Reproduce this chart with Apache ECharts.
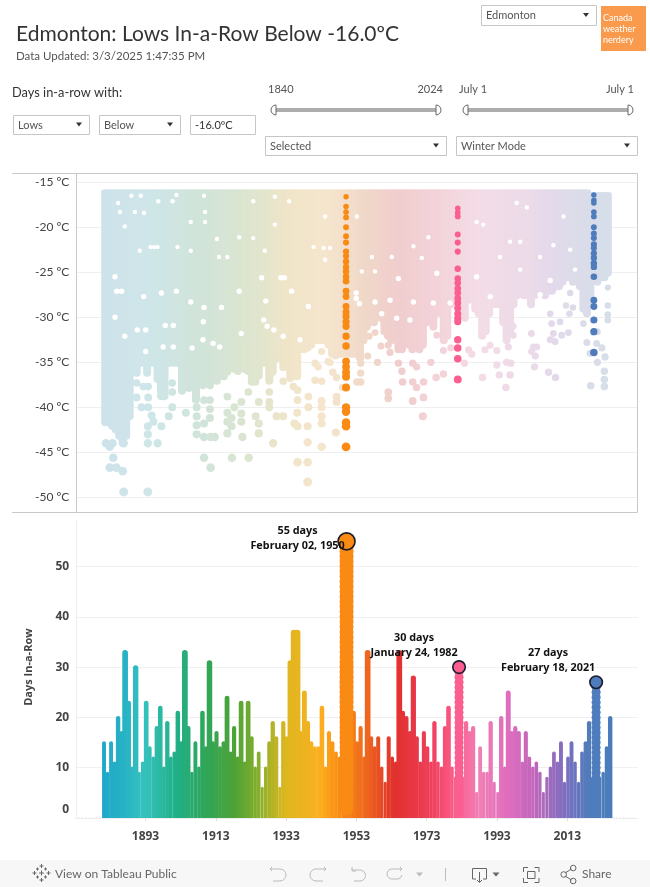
<!DOCTYPE html>
<html><head><meta charset="utf-8">
<style>html,body{margin:0;padding:0;background:#fff}#c{width:650px;height:887px}</style>
<script src="https://cdn.jsdelivr.net/npm/echarts@6/dist/echarts.min.js"></script>
</head><body><div id="c"></div>
<script>
// ---------- DATA ----------
const firstWinter = 1881;
const titleText = 'Edmonton: Lows In-a-Row Below -16.0ºC';
const updatedText = 'Data Updated: 3/3/2025 1:47:35 PM';
const xTicks = [1893,1913,1933,1953,1973,1993,2013];
// longest run of each winter, 1881..2025
const longestRun = [15,9,15,11,20,17,33,23,10,30,9,11,23,14,12,18,22,10,19,12,13,21,15,33,18,9,15,10,21,14,31,15,17,14,15,24,13,18,12,23,11,23,16,10,13,6,10,15,19,16,6,19,16,31,37,37,17,25,19,15,14,14,22,10,17,15,13,12,12,55,10,21,15,18,12,33,16,14,16,10,7,16,12,11,33,21,20,17,28,16,11,17,14,11,19,11,10,18,22,10,8,30,8,19,17,18,5,14,9,9,19,7,5,20,10,25,17,18,17,11,17,12,10,11,9,5,8,10,13,11,15,7,12,15,11,7,13,15,19,8,27,8,9,14,20];
// the deepest temperature each winter is filled down to without a break, 1881..2025
const solidFloor = [-42.1,-42.1,-42.5,-42.9,-43.6,-44.4,-43.6,-41.4,-36.2,-36.6,-35.5,-35.5,-36.6,-35.5,-35.5,-37.3,-39.2,-39.2,-35.5,-35.5,-35.5,-35.5,-38.6,-36,-38.3,-36,-39.6,-36.5,-38,-36.5,-38,-36.8,-37.5,-36,-37,-36.5,-35.9,-36.2,-36.4,-35.8,-36.2,-36.4,-37.6,-37.6,-36.9,-35.5,-35.5,-37.5,-36.5,-35,-34.7,-36,-34.5,-37.2,-36.8,-37,-34,-34,-33.8,-33.5,-33,-33,-33,-33,-33.5,-34.5,-34.7,-34.5,-34.5,-33.5,-34.5,-34.5,-34.5,-35,-33,-31.5,-30.7,-31,-30,-30.5,-32,-32.5,-33,-32.5,-34,-34,-32,-33.5,-34,-33.7,-34,-33.5,-31,-30,-31.5,-30,-29,-33,-32.5,-29,-28.5,-29,-30,-30.5,-28.5,-28,-29.5,-30,-32.5,-32,-30,-29,-29,-29,-31,-33,-32,-29,-28,-27.5,-28,-28,-29,-28,-27,-27.5,-28,-27.5,-27.5,-27,-27,-26.5,-26,-26,-26.5,-26,-27,-29.5,-30,-28.5,-26,-26.5,-26,-26,-25.5];
// separate days below the solid part: [winter, low]
const looseDays = [[1881.2,-44],[1883.1,-44],[1882.3,-44.4],[1886.3,-44],[1883.3,-45.6],[1882.3,-46.7],[1884.2,-46.7],[1886,-47.1],[1886.3,-49.4],[1893.2,-49.4],[1893.2,-44],[1896,-44],[1893.2,-42.1],[1893.2,-43],[1894.8,-41.6],[1897.1,-42.1],[1899.2,-41],[1891.4,-40],[1893.3,-40],[1894.3,-40.9],[1890,-37.3],[1890,-38.9],[1893.3,-38.9],[1891.9,-37.7],[1893.3,-37.7],[1897.6,-38.8],[1900.2,-37.3],[1900.2,-38.3],[1900.2,-40],[1904.1,-40.6],[1907.2,-40],[1907.2,-41],[1907.2,-42],[1907.2,-43],[1909.3,-41.8],[1909.3,-43.3],[1911.2,-43.3],[1912.4,-43.3],[1911,-39.2],[1911,-40.2],[1911,-41.2],[1909.3,-39.2],[1909.3,-45.6],[1911.2,-46.7],[1917.3,-45.6],[1922.1,-45.6],[1916,-38.8],[1916,-40.6],[1916,-41.6],[1916,-42.9],[1917.2,-41.2],[1917.2,-42.1],[1918,-40],[1920,-39.4],[1920,-40.7],[1920,-41.6],[1920.3,-43.3],[1922,-38.3],[1924.1,-41],[1925,-41.8],[1925,-42.9],[1925,-39.4],[1928,-38.3],[1928,-39.4],[1928,-40],[1930.1,-41],[1932,-41],[1929.1,-44],[1932,-37.1],[1934.9,-37.7],[1936.1,-38.1],[1936.1,-39.2],[1939.2,-38.8],[1939.2,-40],[1936,-40.6],[1935.2,-41.8],[1936.1,-42.1],[1939,-42.1],[1939,-43.9],[1936.1,-46.1],[1939,-46.1],[1939,-48.3],[1943,-44.4],[1943,-39.3],[1943,-40],[1943,-41],[1943,-41.8],[1943,-37.1],[1941.1,-35.1],[1942,-35.5],[1941.1,-37],[1943,-33.8],[1944.9,-34.9],[1945.4,-35],[1946.2,-36.1],[1947.3,-36.7],[1947.3,-38.8],[1947.3,-39.4],[1947.1,-42.8],[1949,-37.8],[1953.1,-37.2],[1954.2,-37.2],[1954.2,-35.1],[1954.2,-36.2],[1956.2,-34.3],[1959,-35],[1960,-33.2],[1962.1,-33.1],[1962.6,-33.9],[1958.3,-31.7],[1956.6,-32.1],[1962.1,-38.3],[1962.1,-39],[1965,-35.1],[1966,-36],[1966.2,-37.2],[1970.2,-35.5],[1969.1,-35.1],[1969.1,-37.2],[1970.2,-37.8],[1972.2,-37.2],[1969.1,-39.3],[1972.2,-38.9],[1972,-41],[1974.3,-35],[1975.8,-36.7],[1977.9,-36.3],[1977.9,-33.7],[1980,-33.4],[1976,-32],[1975,-31],[1983.9,-35.1],[1985.1,-33.6],[1986,-34.1],[1989.8,-33.6],[1989.1,-36.7],[1991.3,-33.1],[1993.2,-33.7],[1993.2,-35.3],[1993.9,-36.4],[1997,-36.4],[1995.8,-37.8],[1996,-35],[1997.2,-35.1],[1996.5,-33.3],[1997.9,-31],[1997.9,-32],[2003.1,-31.8],[2003.7,-33.3],[2004.6,-33.3],[2003.2,-33.8],[2004.2,-34.3],[2004,-35.5],[2008,-36.1],[2010,-36.7],[2008.5,-29.6],[2008.9,-30.7],[2009.4,-31.8],[2008.5,-32.5],[2009.9,-32.7],[2011.8,-32],[2013.7,-31.7],[2011.3,-30.5],[2014,-29.6],[2013,-28.7],[2015,-28.9],[2014.2,-27.3],[2018,-30.7],[2019,-32.8],[2019.9,-34],[2022,-31.6],[2021.8,-32.9],[2023.3,-33.4],[2024.2,-34.4],[2022,-35],[2024,-36],[2024,-36.9],[2024,-37.7],[2020.1,-37.6],[2025,-28.7],[2025,-29.7],[2025,-30.3],[2025,-26.7]];
// temperatures no day reached inside the solid part: [winter, low]
const missedLows = [[1884.7,-17.3],[1888.5,-16.5],[1891.2,-16.5],[1885.2,-18.3],[1886.6,-19.9],[1889.5,-18.3],[1892.1,-18.4],[1896.2,-17.1],[1900.3,-17.1],[1901.4,-16.4],[1905.5,-19.4],[1909.6,-18.3],[1909.6,-19.4],[1909.3,-16.5],[1923.4,-17.1],[1933.7,-17.1],[1929.6,-16.6],[1929.6,-19.7],[1919.4,-21.1],[1894,-22.2],[1895,-22.2],[1896,-22.2],[1890.9,-22.6],[1905.5,-22.6],[1901.7,-22.2],[1913.6,-23.3],[1916,-23.3],[1913,-21.3],[1923.4,-21.2],[1926.7,-22.6],[1940.7,-22.2],[1943.6,-22.3],[1925.8,-25.6],[1931.3,-25.6],[1932.3,-25.6],[1883.8,-25.5],[1884.3,-27.1],[1885.7,-27.1],[1892,-27.7],[1897.1,-27.3],[1901.4,-27.1],[1905.5,-28.3],[1909.3,-28.9],[1914.3,-28.9],[1919.4,-27.1],[1927,-28.2],[1934.4,-27.1],[1939.2,-28.8],[1883.8,-30],[1890.2,-31.4],[1892.6,-31.4],[1886.6,-32.1],[1909.1,-30.5],[1900.5,-30.9],[1898.2,-30.9],[1909,-32.5],[1911.9,-32.9],[1913.8,-33.3],[1920,-31.8],[1927.4,-31],[1926.4,-30.3],[1929.3,-31.4],[1932,-32.1],[1936.8,-32.5],[1900.5,-33.3],[1897.6,-33.3],[1892.6,-33.8],[1905.9,-33.4],[1944,-18.8],[1945.4,-22.3],[1944,-23.6],[1953.1,-18.8],[1952.9,-27.3],[1952.9,-27.9],[1957.4,-23.3],[1963.1,-23.3],[1958.3,-24.9],[1954.5,-24.9],[1969.3,-22.1],[1973.6,-21.1],[1971.7,-23.4],[1965,-25.7],[1958.3,-28.3],[1953.8,-28.5],[1976,-25.1],[1975,-28.4],[1969.3,-28.3],[1962.6,-28.1],[1964.5,-30.1],[1979.8,-28.4],[1960.2,-29.6],[1968.3,-30.3],[1987.4,-19.4],[1989.3,-19.7],[1997,-21.6],[1999.9,-21.6],[1994.1,-23.3],[1987.4,-25.5],[1991.3,-27.7],[1999.9,-24.7],[2005.6,-23.3],[2005.6,-27.5],[2008.5,-25.9],[2012.3,-18.8],[2014.2,-22.5],[2015.6,-24.7],[2009.4,-22],[2001.8,-17.8],[1998.9,-17.3]];
// days of the three selected winters
const selectedWinters = [1950,1982,2021];
const selectedRuns = [55,30,27];
const selectedLabels = ['55 days\nFebruary 02, 1950','30 days\nJanuary 24, 1982','27 days\nFebruary 18, 2021'];
const lows1950 = [-16.6,-17.7,-18.3,-18.9,-20,-21,-21.7,-22.7,-23.2,-23.8,-24.4,-24.9,-25.5,-26,-27.1,-27.7,-28.8,-29.4,-29.9,-30.5,-31,-32.1,-33.2,-34.9,-35.5,-36.1,-36.6,-37.8,-40,-40.5,-41.7,-42.1,-44.4];
const lows1982 = [-17.9,-18.4,-18.8,-20.8,-21.7,-22.7,-24.6,-25.7,-26.2,-26.8,-27.3,-27.9,-28.4,-29,-29.6,-30.1,-30.5,-32.5,-33.4,-34.6,-36.9];
const lows2021 = [-16.4,-17,-17.3,-18.3,-18.8,-20,-20.7,-21.2,-21.9,-22.3,-22.9,-23.4,-24,-24.4,-25.5,-28.1,-28.8,-30.3,-31.6,-33.9];

// ---------- STYLE ----------
const FONT = 'Lato';
const vivid = [[104,'#1fa8c9'],[125,'#27b3c4'],[145,'#36c2bd'],[175,'#20b08a'],[205,'#2fa65a'],[235,'#4da336'],[260,'#8aaf2c'],[285,'#dcb71f'],[320,'#fbb020'],[340,'#f98a12'],[365,'#ef6a1e'],[395,'#e0302c'],[430,'#ef3e59'],[457,'#fb5f8f'],[480,'#f07fb5'],[510,'#de6cbe'],[535,'#bf66bb'],[565,'#7d6fc0'],[590,'#4f7cbc'],[611,'#4b7dbb']];
const pastel = [[104,'#cde2ea'],[150,'#cfe6e9'],[200,'#d0e4da'],[250,'#dce5cf'],[290,'#f0e5c9'],[330,'#f5e5cd'],[370,'#f0d7c9'],[400,'#f0cdcd'],[440,'#f3d3da'],[480,'#f3dce6'],[530,'#ecdbe9'],[550,'#e4d9ea'],[590,'#d9dde9'],[610,'#d5dee9']];
function hex(c){return [1,3,5].map(i=>parseInt(c.substr(i,2),16));}
function ramp(stops,x){
  if(x<=stops[0][0])return stops[0][1];
  for(let i=1;i<stops.length;i++){ if(x<=stops[i][0]){
    const t=(x-stops[i-1][0])/(stops[i][0]-stops[i-1][0]),a=hex(stops[i-1][1]),b=hex(stops[i][1]);
    return 'rgb('+a.map((v,k)=>Math.round(v+(b[k]-v)*t)).join(',')+')';}}
  return stops[stops.length-1][1];
}
const OFFSET = 0.2; // runs end in mid winter, after New Year of the labelled year
const selectedColors = ['#f98a14','#fb5f8f','#4e7cbc'];

const winters = longestRun.map((_,i)=>firstWinter+i);
const runData = winters.map((y,i)=>[y+OFFSET,longestRun[i]]);
const floorData = winters.map((y,i)=>[y,solidFloor[i]]);
const zeroYears = [1874,1875,1876,1877,1878,1879,1880,2026,2027,2028,2029,2030,2031,2032];

const chart = echarts.init(document.getElementById('c'),null,{width:650,height:887});

const T = (x,y,text,o={})=>({type:'text',x,y,silent:true,z:5,style:Object.assign({text,fill:'#555',font:`${o.w||'normal'} ${o.s||11}px ${o.f||FONT}`,textAlign:o.a||'left',textVerticalAlign:'middle'},o.st||{})});
const R = (x,y,w,h,fill,stroke)=>({type:'rect',silent:true,z:3,shape:{x:x+.5,y:y+.5,width:w,height:h},style:{fill:fill||'#fff',stroke:stroke||'#c6c6c6',lineWidth:1}});
const L = (x1,y1,x2,y2,c,lw)=>({type:'line',silent:true,z:4,shape:{x1,y1,x2,y2},style:{stroke:c,lineWidth:lw||1}});
const TRI = (x,y,w,h,c)=>({type:'polygon',silent:true,z:5,shape:{points:[[x-w/2,y-h/2],[x+w/2,y-h/2],[x,y+h/2]]},style:{fill:c||'#333'}});
function box(x,y,w,h,t,o={}){return [R(x,y,w,h),T(x+5,y+h/2+.5,t,{s:11,st:{fill:o.c||'#555'}}),...(o.noTri?[]:[TRI(x+w-10,y+h/2,6,4)])];}
function flake(cx,cy){const out=[];[[0,-7],[0,7],[-7,0],[7,0],[0,0],[-4,-4],[4,-4],[-4,4],[4,4]].forEach(([dx,dy])=>{const r=(dx===0||dy===0)?(dx===0&&dy===0?2.5:2):1.5;
  out.push(L(cx+dx-r,cy+dy,cx+dx+r,cy+dy,'#666',1),L(cx+dx,cy+dy-r,cx+dx,cy+dy+r,'#666',1));});return out;}

// drawn pieces of the controls and the toolbar: [path, stroke, fill]
function handles(a,b,y){return [
  [`M${a+4},${y-5} L${a+4},${y+5} A5,5 0 0 1 ${a+4},${y-5} Z`,'#666','#fff'],
  [`M${b-4},${y-5} L${b-4},${y+5} A5,5 0 0 0 ${b-4},${y-5} Z`,'#666','#fff']];}
const iconPaths = [
  ...handles(272,440,110),...handles(464,632,110),
  ['M272,867 L270,869 L272,871 M270,869 L280,869 A6,6 0 0 1 280,881 L273,881','#bbb'],
  ['M324,867 L326,869 L324,871 M326,869 L316,869 A6,6 0 0 0 316,881 L323,881','#bbb'],
  ['M352,867 L352,871 L356,871 M352,870 L360,870 A5.5,5.5 0 0 1 360,881 L354,881','#bbb'],
  ['M400,867 L402,869 L400,871 M402,869 L392,869 A5,5 0 0 0 392,879 L398,879 A5,5 0 0 0 402,875','#bbb'],
  ['M476,879 L472.5,879 L472.5,868.5 L486.5,868.5 L486.5,879 L483,879 M479.5,872 L479.5,882 M477,880 L479.5,882.5 L482,880','#666'],
  ['M523.5,872 L523.5,867.5 L528,867.5 M534.5,867.5 L539,867.5 L539,872 M539,878 L539,882.5 L534.5,882.5 M528,882.5 L523.5,882.5 L523.5,878 M527.5,871.5 H535 V878.5 H527.5 Z','#666'],
  ['M565,873 L571.5,869 M565,876 L571.5,880 M566.5,874.5 A2.8,2.8 0 1 1 560.9,874.5 A2.8,2.8 0 1 1 566.5,874.5 M576,868 A2.8,2.8 0 1 1 570.4,868 A2.8,2.8 0 1 1 576,868 M576,881 A2.8,2.8 0 1 1 570.4,881 A2.8,2.8 0 1 1 576,881','#666']
];

const gfx = [
  T(16,34,titleText,{s:21,st:{fill:'#333'}}),
  T(16,56,updatedText,{s:11.5,st:{fill:'#555'}}),
  ...box(481,5,115,20,'Edmonton'),
  {type:'rect',silent:true,z:3,shape:{x:601,y:6,width:45,height:45},style:{fill:'#f99a4c'}},
  T(603,18,'Canada',{s:9,st:{fill:'#fff'}}),T(603,29,'weather',{s:9,st:{fill:'#fff'}}),T(603,40,'nerdery',{s:9,st:{fill:'#fff'}}),
  T(12,93,'Days in-a-row with:',{s:12.8,st:{fill:'#333'}}),
  ...box(13,115,76,19,'Lows'),...box(99,115,81,19,'Below'),...box(190,115,65,19,'-16.0ºC',{noTri:true,c:'#333'}),
  T(268,89,'1840',{s:11}),T(443,89,'2024',{s:11,a:'right'}),T(459,89,'July 1',{s:11}),T(634,89,'July 1',{s:11,a:'right'}),
  {type:'rect',silent:true,z:3,shape:{x:272,y:108,width:168,height:4},style:{fill:'#adadad'}},
  {type:'rect',silent:true,z:3,shape:{x:464,y:108,width:168,height:4},style:{fill:'#adadad'}},
  ...box(265,136,181,19,'Selected'),...box(456,136,181,19,'Winter Mode'),
  L(12,173.5,637.5,173.5,'#c8c8c8'),L(12,512.5,637.5,512.5,'#c8c8c8'),L(637.5,173.5,637.5,512.5,'#c8c8c8'),L(76.5,173.5,76.5,512.5,'#c8c8c8'),
  L(76.5,520,76.5,818,'#efefef'),
  {type:'rect',silent:true,z:1,shape:{x:0,y:860,width:650,height:27},style:{fill:'#f7f7f7'}},
  ...flake(41.5,873),
  T(55,874,'View on Tableau Public',{s:12,st:{fill:'#666'}}),
  TRI(419.5,874.5,7,4,'#bbb'),
  L(445.5,868,445.5,881,'#bbb'),
  TRI(496,874.5,7,4,'#666'),
  T(582,874,'Share',{s:12,st:{fill:'#666'}})
];

const peakDots = selectedWinters.map((y,i)=>({
  value:[y+OFFSET,selectedRuns[i]],
  symbolSize:i===0?17:12.5,
  itemStyle:{color:selectedColors[i]},
  label:{formatter:selectedLabels[i],offset:i===0?[-49,-3]:(i===1?[-45,-21.5]:[-48,-21.5])}
}));
const runDots = selectedWinters.map((y,i)=>({
  type:'scatter',xAxisIndex:1,yAxisIndex:1,silent:true,z:4,clip:true,
  // the first day of the long 1950 run stays hidden so its wide dot doesn't dip under the axis
  data:Array.from({length:selectedRuns[i]},(_,d)=>[y+OFFSET,d+1]).filter(p=>i>0||p[1]>1),
  symbolSize:i===0?14:9,
  itemStyle:{color:selectedColors[i],opacity:1}
}));
const dotSize = v => 5+(-16-v)*0.12;
const lowsSeries = [lows1950,lows1982,lows2021].map((arr,i)=>({
  type:'scatter',xAxisIndex:0,yAxisIndex:0,silent:true,z:6,
  data:arr.map(t=>[selectedWinters[i],t]),
  symbolSize:p=>dotSize(p[1])+0.4,
  itemStyle:{color:selectedColors[i],opacity:1}
}));

chart.setOption({
  animation:false,
  textStyle:{fontFamily:FONT},
  graphic:{elements:gfx},
  grid:[
    {left:77.3,right:650-637.5,top:182.3,height:315},
    {left:75.2,right:650-637.6,top:516.2,height:301.8}
  ],
  xAxis:[
    {type:'value',gridIndex:0,min:1873,max:2033.5,show:false},
    {type:'value',gridIndex:1,min:1873,max:2033,
      axisLine:{show:true,lineStyle:{color:'#f0f0f0'}},
      axisTick:{show:true,length:3,customValues:xTicks,lineStyle:{color:'#ddd'}},
      splitLine:{show:false},
      axisLabel:{margin:13,color:'#444',fontWeight:'bold',fontSize:12,fontFamily:'Open Sans',customValues:xTicks,
        formatter:v=>String(v)}}
  ],
  yAxis:[
    {type:'value',gridIndex:0,min:-50,max:-15,interval:5,
      axisLine:{show:false},axisTick:{show:false},
      splitLine:{lineStyle:{color:'#efefef'}},
      axisLabel:{margin:8,color:'#444',fontSize:12,fontFamily:FONT,formatter:v=>v+' ºC'}},
    {type:'value',gridIndex:1,min:0,max:60,interval:10,name:'Days In-a-Row',
      nameLocation:'middle',nameGap:41,nameRotate:90,
      nameTextStyle:{color:'#444',fontWeight:'bold',fontSize:11,fontFamily:'Open Sans'},
      axisLine:{show:false},axisTick:{show:false},
      splitLine:{showMaxLine:false,lineStyle:{color:'#f0f0f0'}},
      axisLabel:{margin:6,color:'#444',fontWeight:'bold',fontSize:12,fontFamily:'Open Sans',
        formatter:v=>v===0?'{z|0}':(v===60?'':String(v)),
        rich:{z:{color:'#444',fontWeight:'bold',fontSize:12,fontFamily:'Open Sans',padding:[0,0,16,0]}}}}
  ],
  series:[
    {type:'custom',coordinateSystem:'none',silent:true,z:8,data:[0],
      renderItem:()=>({type:'group',children:iconPaths.map(([d,c,f])=>({type:'path',shape:{pathData:d},style:{stroke:c,lineWidth:1,fill:f||'none'}}))})},
    {type:'custom',xAxisIndex:0,yAxisIndex:0,silent:true,z:2,data:floorData,encode:{x:0,y:1},
      renderItem:(p,api)=>{
        const yr=api.value(0),low=api.value(1);
        const a=api.coord([yr,yr>=2020?-16.1:-15.8]),b=api.coord([yr,low]),w=8;
        return {type:'rect',shape:{x:a[0]-w/2,y:a[1],width:w,height:b[1]-a[1],r:[1.5,1.5,4,4]},style:{fill:ramp(pastel,a[0])}};
      }},
    {type:'scatter',xAxisIndex:0,yAxisIndex:0,silent:true,z:3,data:missedLows,
      symbolSize:p=>p[1]<-25?5.4:4.4,itemStyle:{color:'#fff',opacity:1}},
    {type:'custom',xAxisIndex:0,yAxisIndex:0,silent:true,z:4,data:looseDays,encode:{x:0,y:1},
      renderItem:(p,api)=>{
        const c=api.coord([api.value(0),api.value(1)]);
        return {type:'circle',shape:{cx:c[0],cy:c[1],r:dotSize(api.value(1))/2},style:{fill:ramp(pastel,c[0])}};
      }},
    ...lowsSeries,
    {type:'scatter',xAxisIndex:1,yAxisIndex:1,silent:true,z:2,clip:false,data:zeroYears.map(y=>[y,0]),symbolSize:1.5,itemStyle:{color:'#ddd'}},
    {type:'custom',xAxisIndex:1,yAxisIndex:1,silent:true,z:3,data:runData,encode:{x:0,y:1},
      renderItem:(p,api)=>{
        const x=api.value(0),v=api.value(1);
        const a=api.coord([x,v]),b=api.coord([x,0]),w=2.4+v*0.1;
        return {type:'rect',shape:{x:a[0]-w/2,y:a[1]-w/3,width:w,height:b[1]-a[1]+w/3,r:[w/2,w/2,0,0]},style:{fill:ramp(vivid,a[0])}};
      }},
    ...runDots,
    {type:'scatter',xAxisIndex:1,yAxisIndex:1,silent:true,z:6,clip:false,data:peakDots,
      itemStyle:{borderColor:'#1c1c2c',borderWidth:1.6,opacity:1},
      label:{show:true,position:'inside',color:'#111',fontSize:10.8,fontWeight:'bold',fontFamily:'Noto Sans',lineHeight:15,align:'center',verticalAlign:'middle'}}
  ]
});
</script></body></html>
